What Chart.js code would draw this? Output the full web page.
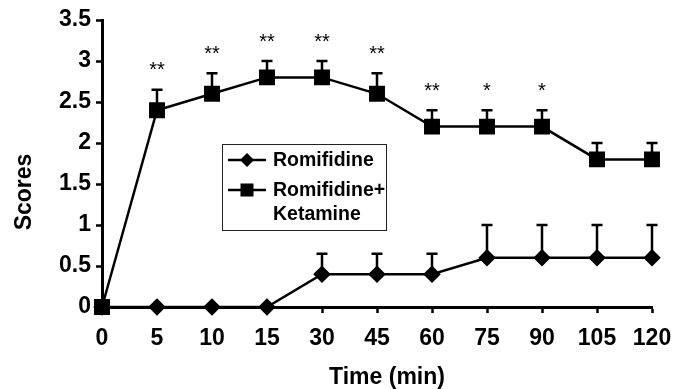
<!DOCTYPE html>
<html>
<head>
<meta charset="utf-8">
<script src="https://cdn.jsdelivr.net/npm/chart.js@4.4.1/dist/chart.umd.min.js"></script>
<style>
  html, body { margin: 0; padding: 0; background: #fff; }
  #wrap { width: 693px; height: 389px; }
</style>
</head>
<body>
<div id="wrap"><canvas id="scoreChart" width="693" height="389"></canvas></div>
<script>
const times = ["0", "5", "10", "15", "30", "45", "60", "75", "90", "105", "120"];
const romifidine = [0, 0, 0, 0, 0.4, 0.4, 0.4, 0.6, 0.6, 0.6, 0.6];
const romifidineErr = [0, 0, 0, 0, 0.25, 0.25, 0.25, 0.4, 0.4, 0.4, 0.4];
const romiKet = [0, 2.4, 2.6, 2.8, 2.8, 2.6, 2.2, 2.2, 2.2, 1.8, 1.8];
const romiKetErr = [0, 0.25, 0.25, 0.2, 0.2, 0.25, 0.2, 0.2, 0.2, 0.2, 0.2];
const sigMarks = ["", "**", "**", "**", "**", "**", "**", "*", "*", "", ""];
const yTicks = [0, 0.5, 1, 1.5, 2, 2.5, 3, 3.5];

const FONT = "Arial, 'Liberation Sans', sans-serif";

// vertical error bars (upper side only) with a small cap
const errorBars = {
    id: "errorBars",
    beforeDatasetsDraw(chart) {
        const ctx = chart.ctx;
        const yScale = chart.scales.y;
        chart.data.datasets.forEach((ds, di) => {
            const meta = chart.getDatasetMeta(di);
            ds.errors.forEach((err, i) => {
                if (!err) return;
                const pt = meta.data[i];
                const top = yScale.getPixelForValue(ds.data[i] + err);
                ctx.save();
                ctx.strokeStyle = "#000";
                ctx.lineWidth = 2.5;
                ctx.beginPath();
                ctx.moveTo(pt.x, pt.y);
                ctx.lineTo(pt.x, top);
                ctx.moveTo(pt.x - 5.5, top);
                ctx.lineTo(pt.x + 5.5, top);
                ctx.stroke();
                ctx.restore();
            });
        });
    }
};

// significance asterisks above the Romifidine+Ketamine error bars
const sigLabels = {
    id: "sigLabels",
    afterDatasetsDraw(chart) {
        const ctx = chart.ctx;
        const yScale = chart.scales.y;
        const meta = chart.getDatasetMeta(1);
        ctx.save();
        ctx.fillStyle = "#000";
        ctx.font = "20px " + FONT;
        ctx.textAlign = "center";
        ctx.textBaseline = "middle";
        sigMarks.forEach((s, i) => {
            if (!s) return;
            const top = yScale.getPixelForValue(romiKet[i] + romiKetErr[i]);
            ctx.fillText(s, meta.data[i].x, top - 19);
        });
        ctx.restore();
    }
};

// axis titles (the original sits them a bit off the axis centres)
const axisTitles = {
    id: "axisTitles",
    afterDraw(chart) {
        const ctx = chart.ctx;
        ctx.save();
        ctx.fillStyle = "#000";
        ctx.font = "bold 23px " + FONT;
        ctx.textAlign = "center";
        ctx.textBaseline = "middle";
        ctx.fillText("Time (min)", 387, 378);
        ctx.translate(25, 192);
        ctx.rotate(-Math.PI / 2);
        ctx.fillText("Scores", 0, 0);
        ctx.restore();
    }
};

// boxed legend inside the plot
const boxLegend = {
    id: "boxLegend",
    afterDraw(chart) {
        const ctx = chart.ctx;
        ctx.save();
        ctx.strokeStyle = "#222";
        ctx.lineWidth = 1;
        ctx.strokeRect(222.5, 144.5, 164, 86);

        ctx.strokeStyle = "#000";
        ctx.fillStyle = "#000";
        ctx.lineWidth = 2.5;
        ctx.beginPath();
        ctx.moveTo(228, 160); ctx.lineTo(266, 160);
        ctx.moveTo(228, 190); ctx.lineTo(266, 190);
        ctx.stroke();
        // diamond
        ctx.beginPath();
        ctx.moveTo(247, 153); ctx.lineTo(254, 160); ctx.lineTo(247, 167); ctx.lineTo(240, 160);
        ctx.closePath();
        ctx.fill();
        // square
        ctx.fillRect(240.5, 183.5, 13, 13);

        ctx.font = "bold 19.5px " + FONT;
        ctx.textAlign = "left";
        ctx.textBaseline = "middle";
        ctx.fillText(chart.data.datasets[0].label, 273, 161);
        ctx.fillText("Romifidine+", 273, 191);
        ctx.fillText("Ketamine", 273, 215);
        ctx.restore();
    }
};

new Chart(document.getElementById("scoreChart"), {
    type: "line",
    data: {
        labels: times,
        datasets: [
            {
                label: "Romifidine",
                data: romifidine,
                errors: romifidineErr,
                borderColor: "#000",
                backgroundColor: "#000",
                borderWidth: 2.5,
                pointStyle: "rectRot",
                pointRadius: 7,
                pointHoverRadius: 7,
                tension: 0
            },
            {
                label: "Romifidine+Ketamine",
                data: romiKet,
                errors: romiKetErr,
                borderColor: "#000",
                backgroundColor: "#000",
                borderWidth: 2.5,
                pointStyle: "rect",
                pointRadius: 9.5,
                pointHoverRadius: 9.5,
                tension: 0
            }
        ]
    },
    options: {
        responsive: false,
        animation: false,
        clip: false,
        events: [],
        layout: { padding: { top: 20, right: 41, left: 0, bottom: 0 } },
        plugins: {
            legend: { display: false },
            tooltip: { enabled: false }
        },
        scales: {
            x: {
                type: "category",
                offset: false,
                grid: { drawOnChartArea: false, drawTicks: true, tickLength: 6, tickColor: "#000", tickWidth: 2.5 },
                border: { color: "#000", width: 3 },
                ticks: { color: "#000", font: { family: FONT, size: 23, weight: "bold" }, padding: 12, maxRotation: 0, autoSkip: false },
                afterFit(s) { s.height = 82; }
            },
            y: {
                min: 0,
                max: 3.5,
                grid: { drawOnChartArea: false, drawTicks: true, tickLength: 6, tickColor: "#000", tickWidth: 2.5 },
                border: { color: "#000", width: 3 },
                afterBuildTicks(s) { s.ticks = yTicks.map(v => ({ value: v })); },
                ticks: { color: "#000", font: { family: FONT, size: 23, weight: "bold" }, padding: 5, callback: v => String(v) },
                afterFit(s) { s.width = 102; }
            }
        }
    },
    plugins: [errorBars, sigLabels, axisTitles, boxLegend]
});
</script>
</body>
</html>
